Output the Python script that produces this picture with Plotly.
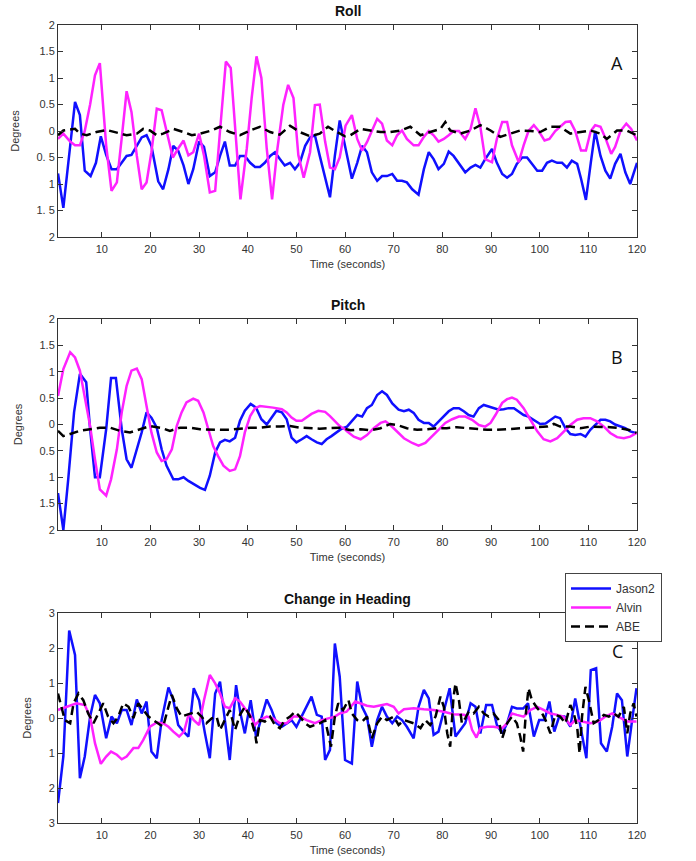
import plotly.graph_objects as go

# ---------------- data (time in seconds, value in degrees) ----------------
roll_jason2 = [(1,-0.8),(2.1,-1.45),(4.5,0.55),(5.5,0.3),(6.5,-0.75),(7.7,-0.85),(8.8,-0.6),(9.8,-0.1),(10.9,-0.45),(12,-0.72),(13.1,-0.72),(14.1,-0.6),(15.1,-0.47),(16.1,-0.45),(17.2,-0.28),(18.2,-0.12),(19.2,-0.08),(20.2,-0.28),(21.6,-0.95),(22.6,-1.1),(23.7,-0.72),(24.7,-0.28),(25.7,-0.37),(26.8,-0.65),(27.8,-1.0),(28.8,-0.72),(30,-0.2),(31,-0.3),(32.2,-0.85),(33.3,-0.78),(34.3,-0.47),(35.3,-0.2),(36.3,-0.65),(37.4,-0.65),(38.4,-0.47),(39.4,-0.47),(40.5,-0.6),(41.5,-0.68),(42.5,-0.68),(43.5,-0.6),(44.6,-0.47),(45.6,-0.4),(46.6,-0.53),(47.6,-0.65),(48.7,-0.6),(49.7,-0.72),(50.7,-0.6),(51.8,-0.28),(52.8,-0.12),(53.8,-0.08),(54.8,-0.47),(55.9,-0.85),(56.9,-1.25),(57.9,-0.47),(58.9,0.2),(61.4,-0.9),(62.5,-0.6),(63.5,-0.28),(64.5,-0.4),(65.5,-0.78),(66.6,-0.94),(67.6,-0.85),(68.6,-0.85),(69.7,-0.81),(70.7,-0.94),(71.7,-0.94),(72.7,-0.97),(73.8,-1.1),(75.1,-1.2),(76.2,-0.72),(77.2,-0.4),(78.2,-0.53),(79.2,-0.72),(80.3,-0.62),(81.3,-0.39),(82.3,-0.47),(83.4,-0.62),(84.7,-0.78),(85.8,-0.69),(86.8,-0.64),(87.8,-0.69),(88.8,-0.53),(90.2,-0.34),(91.2,-0.6),(92.3,-0.81),(93.3,-0.88),(94.3,-0.81),(95.3,-0.62),(96.4,-0.5),(97.4,-0.5),(98.4,-0.62),(99.5,-0.75),(100.5,-0.75),(101.5,-0.6),(102.5,-0.56),(103.6,-0.6),(104.6,-0.6),(105.6,-0.69),(106.6,-0.56),(107.7,-0.62),(108.5,-0.9),(109.5,-1.3),(110.5,-0.6),(111.4,0.0),(112.5,-0.47),(113.5,-0.75),(114.5,-0.9),(115.5,-0.62),(116.6,-0.43),(117.6,-0.78),(118.6,-1.0),(119.7,-0.65),(120,-0.6)]
roll_alvin = [(1,-0.15),(2.1,-0.05),(3.5,-0.2),(4.5,-0.27),(5.5,-0.27),(6.5,0.0),(7.6,0.5),(8.6,1.05),(9.6,1.28),(10.9,-0.27),(12.0,-1.13),(13.1,-0.97),(14.1,-0.13),(15.1,0.75),(16.1,0.36),(17.2,-0.47),(18.2,-1.1),(19.2,-0.97),(20.2,-0.4),(21.3,0.42),(22.3,0.39),(23.3,0.0),(24.6,-0.5),(25.7,-0.33),(26.8,-0.18),(27.8,-0.46),(28.8,-0.4),(30.0,-0.05),(31.0,-0.46),(32.2,-1.16),(33.3,-1.13),(34.3,0.0),(35.5,1.31),(36.5,1.19),(37.7,-0.33),(38.5,-1.29),(39.8,-0.33),(40.8,0.62),(41.8,1.41),(42.8,1.0),(43.9,-0.33),(45.0,-1.29),(46.1,-0.33),(47.3,0.49),(48.3,0.87),(49.4,0.62),(50.4,-0.46),(51.5,-0.88),(52.8,-0.4),(53.8,0.49),(54.8,0.5),(55.9,-0.2),(56.9,-0.69),(57.9,-0.72),(58.9,-0.5),(60.1,0.1),(61.4,0.3),(62.5,-0.15),(63.5,-0.37),(64.5,-0.21),(66.6,0.23),(67.6,0.14),(68.6,-0.18),(69.7,-0.27),(70.7,-0.08),(71.7,0.01),(72.7,-0.15),(74.1,-0.27),(75.1,-0.27),(76.2,-0.11),(77.2,0.0),(78.2,-0.08),(79.2,-0.2),(80.3,-0.15),(81.3,-0.08),(82.3,0.0),(83.4,0.0),(84.7,-0.15),(85.8,0.04),(86.8,0.43),(87.8,0.08),(88.8,-0.53),(90.2,-0.59),(91.2,-0.15),(92.3,0.17),(93.3,0.17),(94.3,-0.27),(95.7,-0.59),(96.7,-0.27),(97.7,0.0),(98.8,0.11),(99.8,0.0),(101.0,-0.18),(102.0,-0.15),(103.2,0.0),(104.2,0.08),(105.3,0.17),(106.3,0.18),(107.3,0.0),(108.5,-0.37),(109.5,-0.37),(110.5,0.0),(111.4,0.11),(112.5,0.08),(113.5,-0.13),(114.7,-0.43),(115.5,-0.3),(116.6,0.0),(117.8,0.14),(118.8,0.04),(120.0,-0.18)]
roll_abe = [(1,-0.08),(2.1,0.01),(4.5,0.04),(5.5,-0.05),(6.9,-0.08),(8.9,-0.02),(11,0.02),(12.7,-0.02),(15.1,-0.08),(17.2,-0.05),(18.5,0.04),(19.9,0.01),(21.3,-0.08),(22.6,-0.05),(24.7,0.04),(26.8,-0.02),(28.5,-0.08),(30.2,-0.05),(32.6,0.01),(34.3,0.08),(36.3,-0.02),(38.4,-0.08),(40.5,0.01),(42.5,0.08),(44.6,-0.02),(46.6,-0.07),(48.7,0.1),(50.7,-0.02),(52.8,-0.1),(54.8,-0.05),(56.5,0.08),(58.3,-0.02),(60,-0.1),(61.1,-0.08),(63.2,0.04),(65.2,0.01),(67.3,-0.02),(69.3,-0.02),(71.4,0.01),(73.4,0.08),(75.5,-0.08),(77.5,-0.02),(79.6,0.04),(80.6,0.17),(81.6,0.01),(83.7,-0.05),(85.8,0.01),(87.8,0.11),(89.9,0.01),(91.9,-0.11),(94,-0.05),(96,0.01),(98.1,0.0),(100.1,-0.02),(102.2,0.08),(104.2,0.08),(106.3,-0.05),(108.4,-0.02),(110.4,0.01),(112.5,-0.05),(113.8,-0.15),(115.9,0.01),(117.9,0.01),(119.9,-0.08)]

pitch_jason2 = [(1,-1.3),(2.1,-2.0),(3.1,-1.04),(4.3,0.23),(5.5,0.96),(6.8,0.8),(7.6,-0.09),(8.6,-1.0),(9.6,-1.0),(10.9,-0.09),(11.9,0.88),(12.9,0.88),(14.1,-0.09),(15.1,-0.66),(16.1,-0.82),(17.2,-0.47),(18.2,-0.15),(19.2,0.23),(20.2,0.13),(21.3,-0.06),(22.3,-0.47),(23.3,-0.78),(24.7,-1.04),(25.7,-1.04),(26.8,-1.0),(27.8,-1.07),(28.8,-1.13),(30.2,-1.2),(31.2,-1.24),(32.2,-0.97),(33.3,-0.53),(34.3,-0.34),(35.3,-0.29),(36.3,-0.32),(37.4,-0.25),(38.4,0.07),(39.4,0.26),(40.6,0.39),(41.7,0.32),(42.8,0.1),(43.9,0.0),(44.9,0.13),(45.9,0.26),(47.0,0.23),(48.0,0.1),(49.0,-0.25),(50.0,-0.34),(51.1,-0.28),(52.1,-0.22),(53.1,-0.28),(54.2,-0.34),(55.2,-0.37),(56.2,-0.28),(57.2,-0.22),(58.3,-0.15),(59.3,-0.08),(60.4,-0.04),(61.4,0.06),(62.5,0.18),(63.5,0.15),(64.5,0.31),(65.5,0.37),(66.6,0.56),(67.6,0.63),(68.6,0.56),(69.7,0.4),(71.0,0.28),(72.1,0.25),(73.1,0.28),(74.1,0.22),(75.1,0.09),(76.2,0.03),(77.2,0.03),(78.2,-0.04),(79.2,0.06),(80.3,0.15),(81.3,0.25),(82.3,0.31),(83.4,0.31),(84.4,0.25),(85.4,0.18),(86.4,0.15),(87.5,0.31),(88.5,0.37),(89.5,0.34),(90.5,0.31),(91.6,0.28),(92.6,0.29),(93.6,0.31),(94.7,0.31),(95.7,0.25),(96.7,0.18),(97.7,0.15),(98.8,0.09),(100.1,0.01),(101.2,0.02),(102.2,0.09),(103.2,0.15),(104.2,0.12),(105.3,-0.07),(106.3,-0.18),(107.3,-0.2),(108.4,-0.18),(109.4,-0.23),(110.4,-0.1),(111.4,0.0),(112.5,0.09),(113.5,0.09),(114.5,0.06),(115.5,0.0),(116.6,-0.04),(117.6,-0.07),(118.6,-0.13),(119.7,-0.16)]
pitch_alvin = [(1,0.54),(2.1,1.05),(3.5,1.37),(4.5,1.27),(5.5,1.02),(6.5,0.54),(7.6,-0.03),(8.6,-0.66),(9.6,-1.23),(10.9,-1.35),(11.9,-1.04),(13.1,-0.47),(14.1,0.23),(15.1,0.73),(16.1,1.02),(17.2,1.06),(18.2,0.86),(19.2,0.35),(20.2,-0.15),(21.3,-0.53),(22.3,-0.69),(23.3,-0.66),(24.4,-0.47),(25.4,-0.03),(26.4,0.23),(27.4,0.42),(28.8,0.49),(29.8,0.45),(30.9,0.23),(31.9,-0.09),(32.9,-0.41),(33.9,-0.6),(35.0,-0.78),(36.3,-0.88),(37.4,-0.85),(38.4,-0.6),(39.4,-0.15),(40.5,0.16),(41.5,0.31),(42.5,0.35),(43.9,0.34),(45.2,0.32),(47.0,0.29),(48.0,0.23),(49.0,0.13),(50.0,0.07),(51.1,0.07),(52.1,0.13),(53.1,0.2),(54.5,0.26),(55.9,0.24),(56.9,0.16),(57.9,0.07),(58.9,-0.03),(60.1,-0.1),(60.4,-0.13),(61.8,-0.23),(63.2,-0.28),(64.5,-0.2),(65.9,-0.07),(67.3,0.03),(68.3,0.06),(69.3,-0.01),(70.7,-0.13),(72.1,-0.26),(73.8,-0.35),(75.1,-0.4),(76.5,-0.35),(77.9,-0.23),(79.2,-0.1),(80.6,0.03),(82.0,0.1),(83.4,0.15),(84.7,0.15),(86.1,0.09),(87.5,-0.01),(88.8,-0.04),(89.9,0.03),(90.9,0.18),(92.3,0.41),(93.3,0.48),(94.3,0.51),(95.3,0.47),(96.7,0.31),(98.1,0.09),(99.5,-0.13),(100.8,-0.28),(102.2,-0.32),(103.6,-0.26),(104.9,-0.13),(106.3,-0.01),(107.7,0.09),(109.0,0.12),(110.4,0.12),(111.8,0.06),(113.2,-0.04),(114.5,-0.16),(115.9,-0.24),(117.3,-0.26),(118.6,-0.23),(120.0,-0.16)]
pitch_abe = [(1,-0.12),(2.1,-0.22),(3.5,-0.18),(5.5,-0.12),(7.6,-0.09),(9.6,-0.06),(11.7,-0.06),(13.7,-0.12),(15.8,-0.15),(17.8,-0.09),(19.9,-0.03),(22.0,-0.06),(24.0,-0.12),(26.1,-0.06),(28.1,-0.06),(30.2,-0.09),(32.2,-0.1),(34.3,-0.1),(36.3,-0.1),(38.4,-0.08),(40.5,-0.06),(42.5,-0.06),(44.6,-0.04),(46.6,-0.04),(48.7,-0.03),(50.7,-0.06),(52.8,-0.07),(54.8,-0.08),(56.9,-0.07),(58.9,-0.06),(61.1,-0.11),(63.2,-0.09),(65.2,-0.11),(67.3,-0.07),(69.3,0.01),(70.7,-0.01),(72.7,-0.07),(74.8,-0.1),(76.8,-0.09),(78.9,-0.07),(80.9,-0.07),(83.0,-0.05),(85.1,-0.07),(87.1,-0.09),(89.2,-0.1),(91.2,-0.1),(93.3,-0.09),(95.3,-0.07),(97.4,-0.07),(99.5,-0.05),(101.5,-0.04),(102.9,0.01),(104.2,-0.04),(106.3,-0.04),(108.4,-0.07),(110.4,-0.04),(112.5,-0.04),(114.5,-0.05),(116.6,-0.07),(118.6,-0.11),(119.9,-0.16)]

heading_jason2 = [(1,-2.43),(2.1,-1.1),(3.3,2.5),(4.5,1.8),(5.5,-1.72),(6.5,-1.1),(7.6,0.04),(8.6,0.66),(9.6,0.42),(10.9,-0.58),(12.0,0.04),(13.1,-0.15),(14.1,0.23),(15.1,0.23),(16.1,-0.2),(17.2,0.53),(18.2,0.13),(19.2,0.47),(20.2,-0.96),(21.3,-1.15),(22.3,-0.06),(23.7,0.87),(24.7,0.51),(25.7,-0.2),(26.8,-0.39),(27.8,-0.53),(28.9,0.85),(30.0,0.51),(31.2,-0.44),(32.2,-1.15),(33.3,0.7),(34.3,1.04),(35.3,-0.06),(36.3,-1.2),(37.6,0.94),(38.5,0.13),(39.4,-0.44),(40.6,0.51),(41.7,-0.53),(42.8,0.04),(43.9,0.53),(44.9,0.23),(45.9,-0.15),(47.0,-0.25),(48.0,-0.15),(49.0,-0.06),(50.0,-0.25),(51.1,0.04),(52.1,0.32),(53.1,0.61),(54.2,0.09),(55.2,0.04),(55.9,-1.2),(56.9,-0.91),(57.9,2.13),(58.9,1.18),(60.0,-1.2),(61.4,-1.3),(62.5,1.04),(63.5,0.32),(64.5,0.04),(65.5,-0.82),(66.6,-0.06),(67.6,0.32),(68.6,0.04),(69.7,-0.15),(70.7,0.04),(71.7,-0.06),(72.7,-0.25),(74.1,-0.58),(75.1,0.32),(76.2,0.8),(77.2,0.56),(78.2,-0.48),(79.2,-0.39),(80.3,0.23),(81.5,0.85),(82.7,-0.53),(83.7,-0.34),(84.7,-0.15),(85.8,0.42),(86.8,0.32),(87.8,-0.44),(89.0,0.37),(90.2,0.37),(91.2,-0.2),(92.3,-0.44),(93.3,-0.15),(94.3,0.32),(95.3,0.27),(96.6,0.27),(97.6,0.42),(98.8,-0.53),(99.9,-0.06),(101.0,-0.06),(102.0,0.47),(103.0,-0.39),(104.0,0.04),(105.1,0.04),(106.3,-0.25),(107.3,0.56),(108.4,-0.3),(109.6,-1.15),(110.5,1.37),(111.6,1.42),(112.6,-0.72),(113.8,-0.96),(114.9,-0.25),(115.9,0.7),(116.9,0.51),(118.0,-1.1),(119.0,-0.06),(119.9,0.85)]
heading_alvin = [(1,0.23),(2.8,0.32),(4.8,0.42),(6.5,0.37),(7.6,0.04),(8.6,-0.72),(9.8,-1.31),(10.9,-1.1),(11.9,-0.96),(13.1,-1.05),(14.1,-1.18),(15.1,-1.1),(16.5,-0.86),(17.5,-0.86),(18.5,-0.63),(19.9,-0.25),(21.3,-0.13),(22.6,-0.15),(23.7,-0.25),(24.7,-0.39),(25.9,-0.53),(26.9,-0.39),(27.9,0.13),(28.9,-0.06),(30.0,-0.2),(31.0,0.51),(32.2,1.23),(33.3,0.99),(34.3,0.7),(35.3,0.32),(36.3,0.28),(37.4,0.56),(38.4,0.47),(39.4,0.28),(40.5,0.09),(41.5,-0.2),(42.5,-0.06),(43.9,0.04),(45.2,-0.01),(46.6,-0.15),(48.0,-0.15),(49.4,0.04),(50.7,0.04),(52.1,-0.06),(53.8,-0.15),(55.2,-0.06),(56.5,-0.01),(57.9,0.04),(58.9,0.13),(60.3,0.18),(62.1,0.47),(63.2,0.42),(64.5,0.35),(65.9,0.32),(67.3,0.37),(68.6,0.4),(70.0,0.32),(71.0,0.13),(72.1,0.25),(74.1,0.28),(76.2,0.25),(78.2,0.23),(80.3,0.18),(82.3,0.11),(84.4,0.09),(85.4,0.04),(86.1,-0.34),(87.0,-0.56),(87.8,-0.29),(89.2,-0.25),(90.5,-0.25),(92.3,-0.29),(93.3,-0.15),(94.3,0.13),(95.3,0.09),(96.7,0.04),(98.1,0.23),(99.5,0.32),(100.8,0.23),(102.2,0.13),(103.6,0.09),(104.9,0.04),(106.3,-0.2),(107.3,-0.06),(108.7,-0.1),(110.4,-0.15),(112.1,-0.1),(113.5,0.04),(114.9,0.13),(116.2,0.04),(118.0,-0.1),(119.9,-0.1)]
heading_abe = [(1,0.7),(1.8,0.23),(2.4,-0.06),(3.5,-0.15),(4.2,0.42),(5.2,0.7),(6.2,0.51),(7.2,0.13),(8.3,-0.15),(9.3,0.13),(10.3,0.42),(11.3,0.04),(12.4,-0.15),(13.4,0.04),(14.4,0.42),(15.5,0.32),(16.5,0.0),(17.5,0.42),(18.5,0.23),(19.6,0.04),(20.6,-0.06),(21.6,-0.15),(22.6,-0.25),(23.7,0.32),(24.4,0.66),(25.4,0.28),(26.4,0.04),(27.4,0.09),(28.5,0.13),(29.5,0.18),(30.5,0.04),(31.5,-0.15),(32.6,-0.01),(33.6,0.04),(34.3,-0.34),(35.3,-0.06),(36.3,0.23),(37.4,-0.34),(38.4,0.09),(39.4,0.32),(40.5,0.04),(41.5,-0.44),(41.8,-0.72),(42.5,-0.06),(43.5,-0.1),(44.6,0.04),(45.6,-0.2),(46.6,-0.29),(47.6,-0.06),(48.7,0.04),(49.7,0.18),(50.7,0.04),(51.8,-0.15),(52.8,-0.25),(53.8,-0.2),(54.8,-0.15),(55.9,-0.06),(56.5,-0.44),(57.1,-0.82),(57.9,0.04),(58.6,0.42),(59.6,0.23),(60.7,0.51),(61.4,0.13),(62.5,-0.06),(63.5,-0.1),(64.5,0.04),(65.5,-0.58),(66.6,-0.15),(67.6,0.04),(68.6,-0.06),(70.0,0.04),(71.0,-0.2),(72.1,-0.06),(73.1,-0.1),(74.1,-0.15),(75.5,-0.29),(76.5,-0.06),(77.5,-0.2),(78.6,0.04),(79.6,0.61),(80.3,0.32),(81.0,-0.44),(81.6,-0.82),(82.3,0.61),(82.7,0.99),(83.4,0.51),(84.0,-0.15),(84.7,-0.01),(85.4,0.18),(86.4,0.13),(87.5,0.32),(88.5,0.13),(89.5,0.04),(90.5,0.13),(91.6,-0.06),(92.3,-0.58),(93.3,-0.15),(94.3,0.04),(95.3,-0.15),(96.0,-0.53),(96.6,-0.96),(97.1,0.04),(97.7,0.85),(98.4,0.51),(99.5,0.28),(100.5,0.13),(101.2,-0.06),(102.2,-0.44),(103.2,0.09),(104.2,0.04),(105.3,-0.15),(106.3,0.37),(107.0,0.13),(107.7,-0.25),(108.2,-1.01),(108.7,0.04),(109.4,0.89),(110.1,0.51),(111.1,-0.15),(112.1,-0.06),(113.2,0.09),(114.2,0.04),(115.2,0.13),(116.2,0.04),(117.3,0.32),(118.0,-0.44),(118.6,0.13),(119.3,0.42),(119.9,0.04)]

x_ticks = [10, 20, 30, 40, 50, 60, 70, 80, 90, 100, 110, 120]
roll_tickvals = [2, 1.5, 1, 0.5, 0, -0.5, -1, -1.5, -2]
roll_ticktext = ["2", "1.5", "1", "0.5", "0", "0. 5", "1", "1. 5", "2"]
pitch_tickvals = [2, 1.5, 1, 0.5, 0, -0.5, -1, -1.5, -2]
pitch_ticktext = ["2", "1.5", "1", "0.5", "0", "0.5", "1", "1.5", "2"]
heading_tickvals = [3, 2, 1, 0, -1, -2, -3]
heading_ticktext = ["3", "2", "1", "0", "1", "2", "3"]

series_names = ["Jason2", "Alvin", "ABE"]
panel_titles = ["Roll", "Pitch", "Change in Heading"]
panel_letters = ["A", "B", "C"]

# ---------------- styling ----------------
W, H = 696, 861
FONT = "Liberation Sans, Arial, Helvetica, sans-serif"
colors = ["#1010ff", "#ff22ff", "#000000"]
dashes = ["solid", "solid", "9px,5px"]

fig = go.Figure()

panels = [
    ([roll_jason2, roll_alvin, roll_abe], (25, 237), [-2, 2], roll_tickvals, roll_ticktext),
    ([pitch_jason2, pitch_alvin, pitch_abe], (319, 530), [-2, 2], pitch_tickvals, pitch_ticktext),
    ([heading_jason2, heading_alvin, heading_abe], (613, 823), [-3, 3], heading_tickvals, heading_ticktext),
]
x0, x1 = 58, 637

for i, (series, (ytop, ybot), yr, tv, tt) in enumerate(panels):
    sfx = "" if i == 0 else str(i + 1)
    for k, s in enumerate(series):
        fig.add_trace(go.Scatter(
            x=[p[0] for p in s], y=[p[1] for p in s], mode="lines",
            name=series_names[k],
            line=dict(color=colors[k], width=2.5, dash=dashes[k]),
            showlegend=(i == 2),
            xaxis="x" + sfx, yaxis="y" + sfx,
        ))
    axis_common = dict(showline=True, linecolor="#333333", linewidth=1, mirror="ticks",
                       ticks="inside", ticklen=5, tickcolor="#333333", showgrid=False,
                       zeroline=False, automargin=False,
                       tickfont=dict(family=FONT, size=11, color="#333333"))
    fig.layout["xaxis" + sfx] = dict(
        domain=[x0 / W, x1 / W], range=[1, 120], tickvals=x_ticks,
        anchor="y" + sfx, ticklabelstandoff=2,
        title=dict(text="Time (seconds)", font=dict(family=FONT, size=11, color="#333333"), standoff=6),
        **axis_common)
    fig.layout["yaxis" + sfx] = dict(
        domain=[1 - ybot / H, 1 - ytop / H], range=yr, tickvals=tv, ticktext=tt,
        anchor="x" + sfx,
        title=dict(text="Degrees", font=dict(family=FONT, size=11, color="#333333"), standoff=14),
        **axis_common)
    fig.add_annotation(text="<b>%s</b>" % panel_titles[i], xref="paper", yref="paper",
                       x=(x0 + x1) / 2 / W, y=1 - (ytop - 14) / H, showarrow=False,
                       font=dict(family=FONT, size=14, color="#111111"), yanchor="middle")
    fig.add_annotation(text=panel_letters[i], xref="paper", yref="paper",
                       x=617 / W, y=1 - (ytop + 38) / H, showarrow=False,
                       font=dict(family="Open Sans, sans-serif", size=18, color="#111111"),
                       yanchor="middle", xanchor="center")

fig.update_layout(
    width=W, height=H, margin=dict(l=0, r=0, t=0, b=0, autoexpand=False),
    paper_bgcolor="white", plot_bgcolor="white",
    legend=dict(x=565 / W, y=1 - 573 / H, xanchor="left", yanchor="top",
                bgcolor="white", bordercolor="#444444", borderwidth=1,
                font=dict(family=FONT, size=12, color="#333333"),
                tracegroupgap=0, itemwidth=40),
)

fig.write_html("out.html", config={"displayModeBar": False},
               post_script="document.body.style.margin='0px';document.body.style.overflow='hidden';")
